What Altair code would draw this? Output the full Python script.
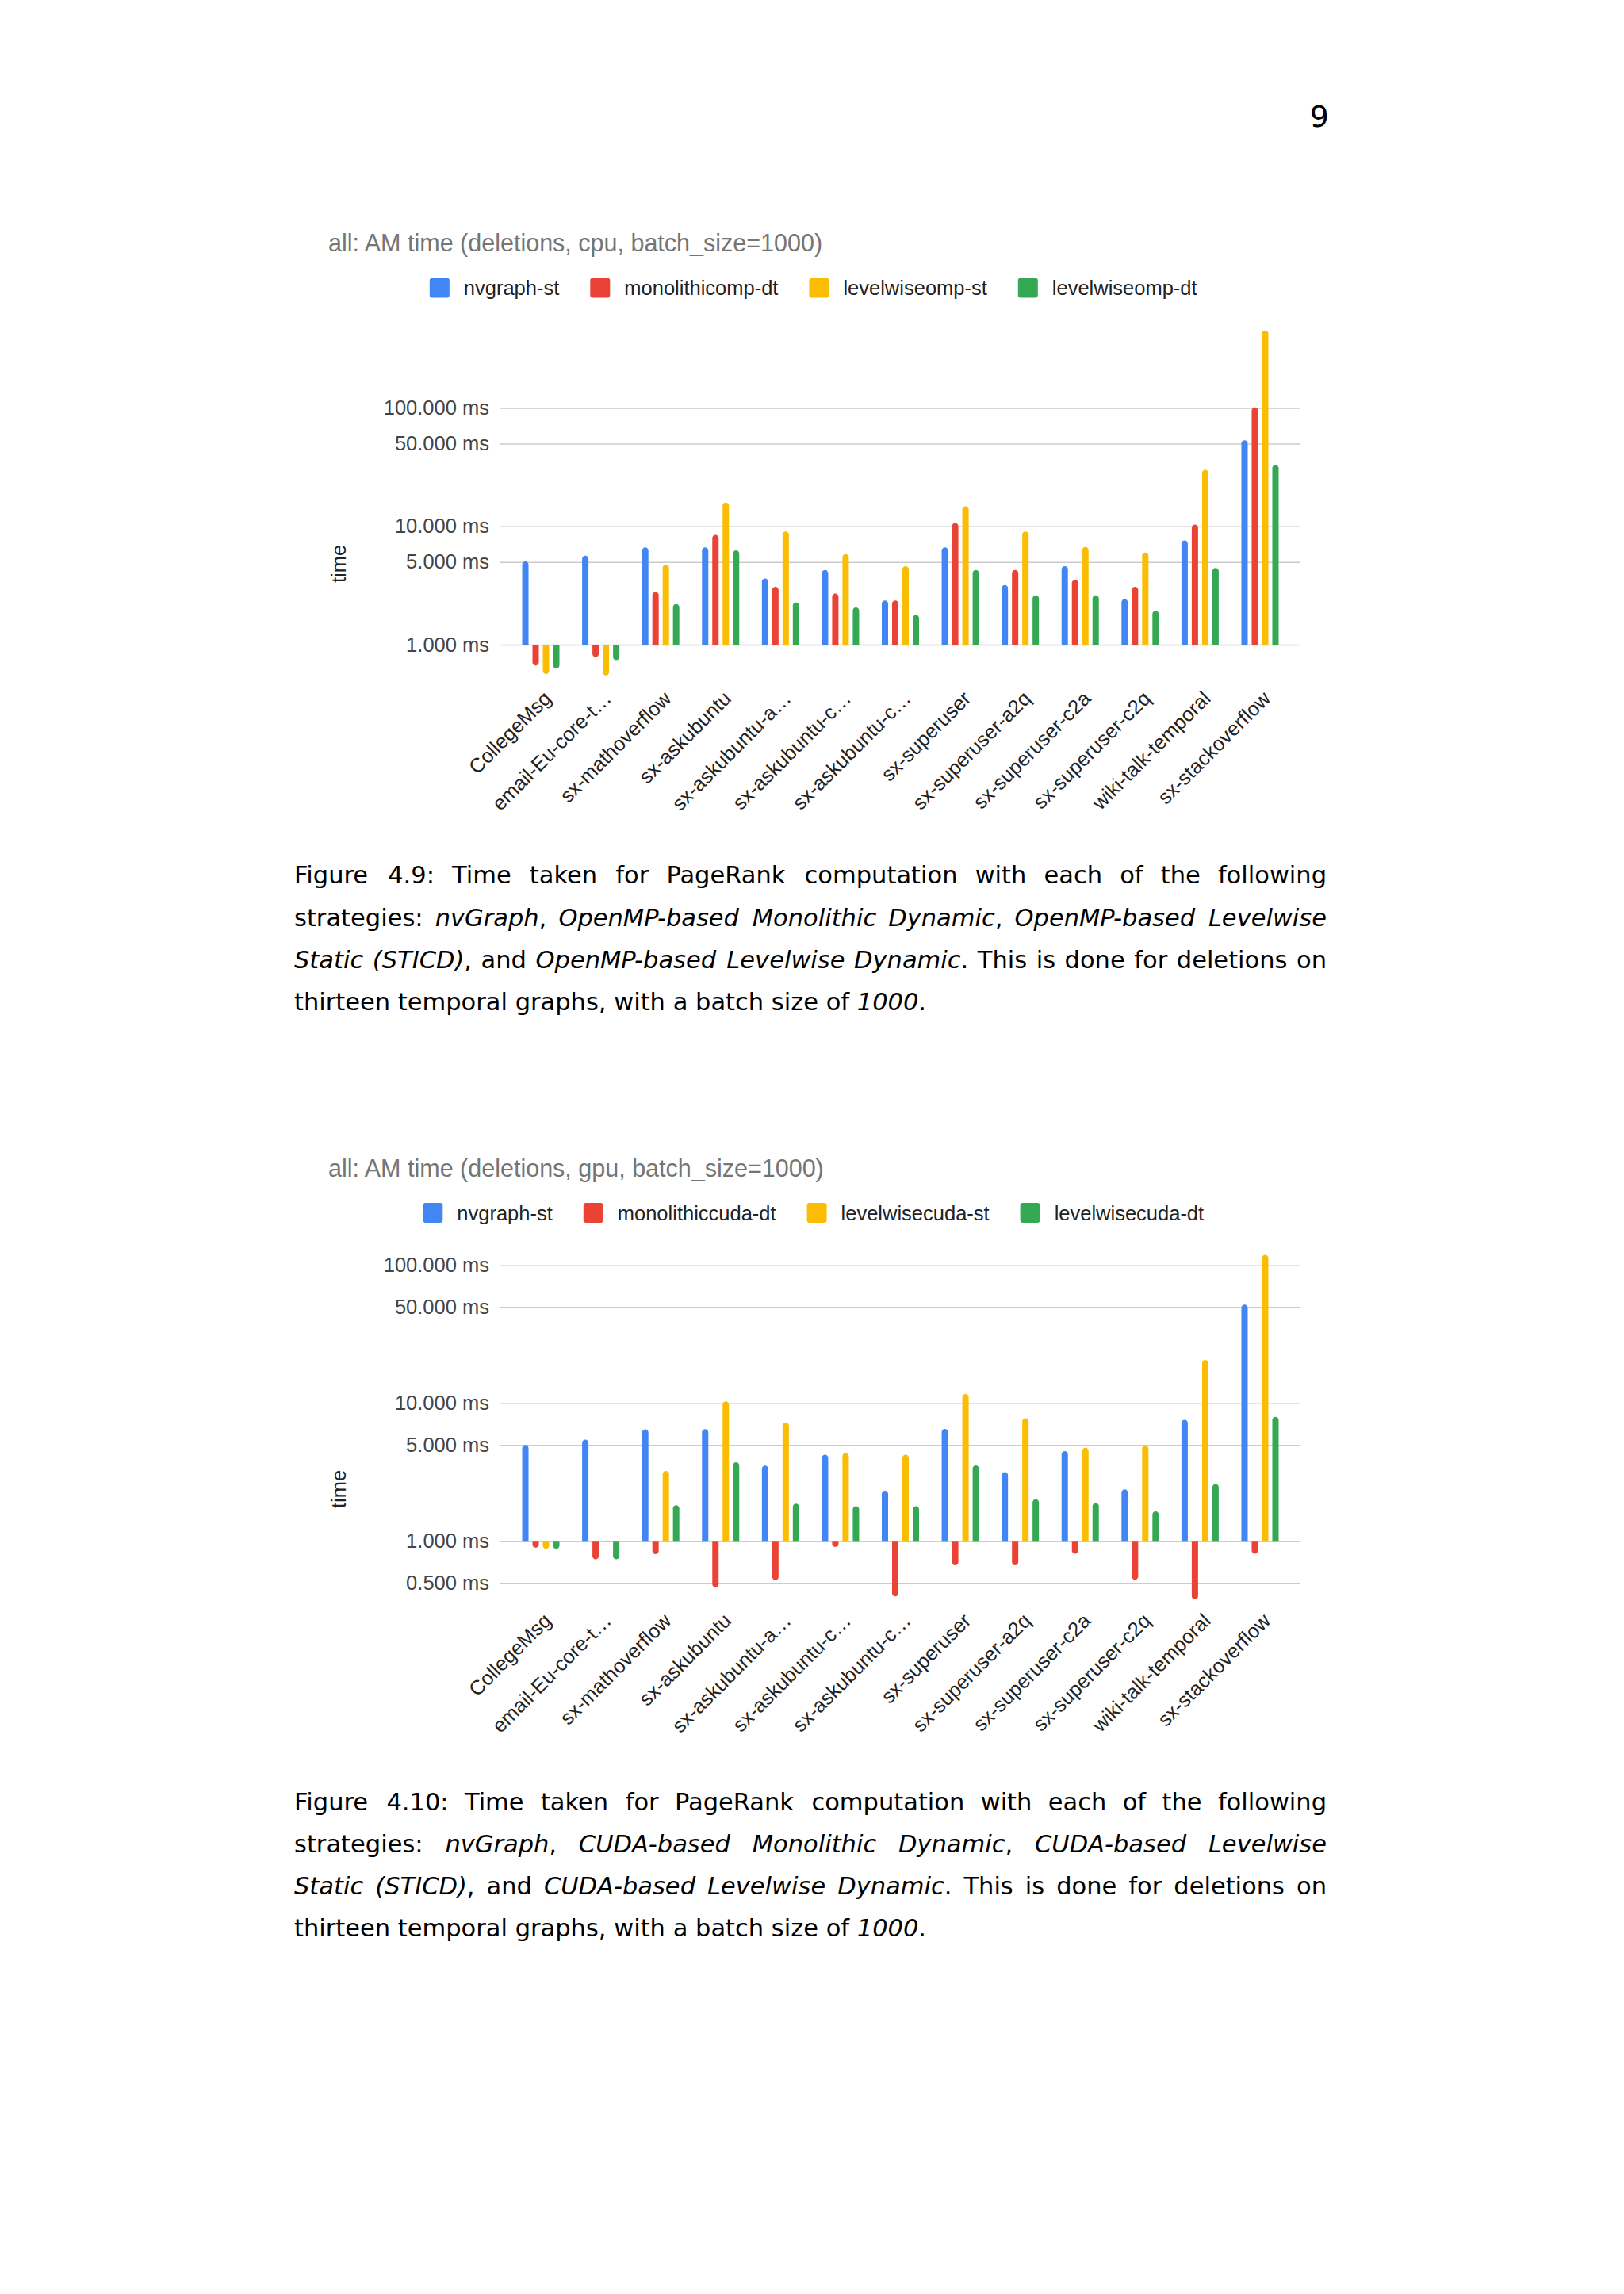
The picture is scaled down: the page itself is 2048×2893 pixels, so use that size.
import math
import altair as alt
import pandas as pd

# ---------------- data (values in ms) ----------------
categories = ["CollegeMsg", "email-Eu-core-temporal", "sx-mathoverflow", "sx-askubuntu",
              "sx-askubuntu-a2q", "sx-askubuntu-c2a", "sx-askubuntu-c2q", "sx-superuser",
              "sx-superuser-a2q", "sx-superuser-c2a", "sx-superuser-c2q", "wiki-talk-temporal",
              "sx-stackoverflow"]
category_labels = ["CollegeMsg", "email-Eu-core-t…", "sx-mathoverflow", "sx-askubuntu",
                   "sx-askubuntu-a…", "sx-askubuntu-c…", "sx-askubuntu-c…", "sx-superuser",
                   "sx-superuser-a2q", "sx-superuser-c2a", "sx-superuser-c2q", "wiki-talk-temporal",
                   "sx-stackoverflow"]

cpu_series = ["nvgraph-st", "monolithicomp-dt", "levelwiseomp-st", "levelwiseomp-dt"]
gpu_series = ["nvgraph-st", "monolithiccuda-dt", "levelwisecuda-st", "levelwisecuda-dt"]

cpu_nvgraph_st = [5.1, 5.7, 6.7, 6.7, 3.66, 4.32, 2.38, 6.7, 3.22, 4.64, 2.45, 7.67, 53.8]
cpu_monolithic_dt = [0.673, 0.789, 2.81, 8.53, 3.11, 2.73, 2.38, 10.74, 4.32, 3.56, 3.11, 10.42, 101.8]
cpu_levelwise_st = [0.57, 0.554, 4.78, 16.0, 9.1, 5.88, 4.64, 14.9, 9.1, 6.74, 6.05, 30.2, 456.0]
cpu_levelwise_dt = [0.635, 0.745, 2.22, 6.31, 2.29, 2.08, 1.8, 4.32, 2.63, 2.63, 1.95, 4.48, 33.3]

gpu_nvgraph_st = [5.03, 5.5, 6.53, 6.55, 3.57, 4.27, 2.34, 6.57, 3.2, 4.54, 2.4, 7.65, 52.3]
gpu_monolithic_dt = [0.907, 0.745, 0.812, 0.468, 0.527, 0.918, 0.402, 0.674, 0.674, 0.817, 0.531, 0.382, 0.817]
gpu_levelwise_st = [0.887, 0.99, 3.26, 10.4, 7.31, 4.4, 4.27, 11.75, 7.85, 4.8, 4.98, 20.8, 120.0]
gpu_levelwise_dt = [0.887, 0.745, 1.84, 3.77, 1.89, 1.81, 1.81, 3.58, 2.03, 1.91, 1.66, 2.62, 8.04]

cpu_ticks = [1, 5, 10, 50, 100]
gpu_ticks = [0.5, 1, 5, 10, 50, 100]

cpu_title = "all: AM time (deletions, cpu, batch_size=1000)"
gpu_title = "all: AM time (deletions, gpu, batch_size=1000)"
axis_title = "time"
page_number = "9"

caption1 = [
    [("Figure 4.9: Time taken for PageRank computation with each of the following", 0)],
    [("strategies: ", 0), ("nvGraph", 1), (", ", 0), ("OpenMP-based Monolithic Dynamic", 1),
     (", ", 0), ("OpenMP-based Levelwise", 1)],
    [("Static (STICD)", 1), (", and ", 0), ("OpenMP-based Levelwise Dynamic", 1),
     (". This is done for deletions on", 0)],
    [("thirteen temporal graphs, with a batch size of ", 0), ("1000", 1), (".", 0)],
]
caption2 = [
    [("Figure 4.10: Time taken for PageRank computation with each of the following", 0)],
    [("strategies: ", 0), ("nvGraph", 1), (", ", 0), ("CUDA-based Monolithic Dynamic", 1),
     (", ", 0), ("CUDA-based Levelwise", 1)],
    [("Static (STICD)", 1), (", and ", 0), ("CUDA-based Levelwise Dynamic", 1),
     (". This is done for deletions on", 0)],
    [("thirteen temporal graphs, with a batch size of ", 0), ("1000", 1), (".", 0)],
]

# ---------------- layout / style ----------------
M = 8                      # page margin
PLOT_X0, PLOT_X1 = 631, 1640
CAP_X0, CAP_X1 = 371, 1673
COLORS = ["#4285F4", "#EA4335", "#FBBC04", "#34A853"]
CHART_FONT = "Liberation Sans"
CAP_FONT = "DejaVu Sans"
CAP_SIZE = 30.5
LAB_SIZE = 25.5
TITLE_SIZE = 30.5
BAR_W = 8

G1 = dict(base=813.5, decade=149.25, title_y=317, legend_y=363, xlabel_y=886, time_y=711)
G2 = dict(base=1944.3, decade=174.0, title_y=1484, legend_y=1529.5, xlabel_y=2049, time_y=1878)

# Arial / Liberation Sans advance widths (per 1000 em)
AR = {'a': 556, 'b': 556, 'c': 500, 'd': 556, 'e': 556, 'f': 278, 'g': 556, 'h': 556, 'i': 222,
      'j': 222, 'k': 500, 'l': 222, 'm': 833, 'n': 556, 'o': 556, 'p': 556, 'q': 556, 'r': 333,
      's': 500, 't': 278, 'u': 556, 'v': 500, 'w': 722, 'x': 500, 'y': 500, 'z': 500, '-': 333}
# DejaVu Sans advance widths (per 2048 em)
DV = {' ': 651, '(': 799, ')': 799, ',': 651, '-': 739, '.': 651, ':': 690,
      'A': 1401, 'B': 1405, 'C': 1430, 'D': 1577, 'E': 1294, 'F': 1178, 'G': 1587, 'H': 1540,
      'I': 604, 'J': 604, 'K': 1343, 'L': 1141, 'M': 1767, 'N': 1532, 'O': 1612, 'P': 1235,
      'Q': 1612, 'R': 1423, 'S': 1300, 'T': 1251, 'U': 1499, 'V': 1401, 'W': 2025, 'X': 1403,
      'Y': 1251, 'Z': 1403,
      'a': 1255, 'b': 1300, 'c': 1126, 'd': 1300, 'e': 1260, 'f': 721, 'g': 1300, 'h': 1298,
      'i': 569, 'j': 569, 'k': 1186, 'l': 569, 'm': 1995, 'n': 1298, 'o': 1253, 'p': 1300,
      'q': 1300, 'r': 842, 's': 1067, 't': 803, 'u': 1298, 'v': 1212, 'w': 1675, 'x': 1212,
      'y': 1212, 'z': 1075}
for _d in "0123456789":
    DV[_d] = 1303


def w_ar(s, size):
    return sum(AR.get(c, 556) for c in s) / 1000.0 * size


def w_dv(s, size):
    return sum(DV.get(c, 1250) for c in s) / 2048.0 * size


def make_chart(series, cols, ticks, title, g):
    rows = []
    for si, (name, vals) in enumerate(zip(series, cols)):
        for c, v in zip(categories, vals):
            rows.append({"cat": c, "series": name, "sidx": si, "v": v})
    df = pd.DataFrame(rows)

    def py(v):
        return g["base"] - math.log10(v) * g["decade"] - M

    ys = alt.Scale(type="log", domain=[0.1, 1000], range=[py(0.1), py(1000)], nice=False, zero=False)
    xs = alt.Scale(domain=categories, range=[PLOT_X0 - M, PLOT_X1 - M], paddingOuter=0.175, paddingInner=0)
    xos = alt.Scale(domain=[0, 1, 2, 3], paddingInner=0, paddingOuter=0.907)
    cs = alt.Scale(domain=[0, 1, 2, 3], range=COLORS)

    tdf = pd.DataFrame({"v": ticks, "lab": [f"{t:.3f} ms" for t in ticks]})
    grid = alt.Chart(tdf).mark_rule(color="#cccccc", strokeWidth=1.5).encode(
        y=alt.Y("v:Q", scale=ys, axis=None),
        x=alt.value(PLOT_X0 - M), x2=alt.value(PLOT_X1 - M))
    tick_labels = alt.Chart(tdf).mark_text(
        align="right", baseline="middle", font=CHART_FONT, fontSize=LAB_SIZE, color="#444444"
    ).encode(y=alt.Y("v:Q", scale=ys, axis=None), x=alt.value(617 - M), text="lab:N")

    base = alt.Chart(df).encode(
        x=alt.X("cat:N", scale=xs, axis=None),
        xOffset=alt.XOffset("sidx:O", scale=xos),
        y=alt.Y("v:Q", scale=ys, axis=None),
        y2=alt.datum(1),
        color=alt.Color("sidx:O", scale=cs, legend=None),
    )
    pos = base.transform_filter("datum.v >= 1").mark_bar(
        size=BAR_W, cornerRadiusTopLeft=4, cornerRadiusTopRight=4)
    neg = base.transform_filter("datum.v < 1").mark_bar(
        size=BAR_W, cornerRadiusBottomLeft=4, cornerRadiusBottomRight=4)

    ldf = pd.DataFrame({"cat": categories, "label": category_labels})
    xlabels = alt.Chart(ldf).mark_text(
        align="right", baseline="middle", angle=315, dx=13,
        font=CHART_FONT, fontSize=LAB_SIZE, color="#222222"
    ).encode(x=alt.X("cat:N", scale=xs, axis=None), y=alt.value(g["xlabel_y"] - M), text="label:N")

    core = alt.layer(grid, tick_labels, pos, neg, xlabels)

    # chart title and axis title
    tchart = alt.Chart(pd.DataFrame({"t": [title]})).mark_text(
        align="left", baseline="alphabetic", font=CHART_FONT, fontSize=TITLE_SIZE, color="#757575"
    ).encode(x=alt.value(414 - M), y=alt.value(g["title_y"] - M), text="t:N")
    ttime = alt.Chart(pd.DataFrame({"t": [axis_title]})).mark_text(
        align="center", baseline="middle", angle=270, font=CHART_FONT, fontSize=LAB_SIZE, color="#222222"
    ).encode(x=alt.value(428 - M), y=alt.value(g["time_y"] - M), text="t:N")

    # legend entries laid out from the label widths, centred
    sw, gap1, gap2 = 25, 18, 39
    widths = [sw + gap1 + w_ar(s, LAB_SIZE) for s in series]
    total = sum(widths) + gap2 * (len(series) - 1)
    x = 1025.7 - total / 2
    lrows = []
    for si, (s, w) in enumerate(zip(series, widths)):
        lrows.append({"name": s, "sidx": si, "x0": x - M, "x1": x + sw - M, "tx": x + sw + gap1 - M})
        x += w + gap2
    legdf = pd.DataFrame(lrows)
    ly = g["legend_y"]
    swatch = alt.Chart(legdf).mark_rect(cornerRadius=3).encode(
        x=alt.X("x0:Q", scale=None, axis=None), x2="x1:Q",
        y=alt.value(ly - sw / 2 - M), y2=alt.value(ly + sw / 2 - M),
        color=alt.Color("sidx:O", scale=cs, legend=None))
    legtext = alt.Chart(legdf).mark_text(
        align="left", baseline="alphabetic", font=CHART_FONT, fontSize=LAB_SIZE, color="#222222"
    ).encode(x=alt.X("tx:Q", scale=None, axis=None), y=alt.value(ly + 9 - M), text="name:N")

    return core, [tchart, ttime, swatch, legtext]


def words_of(runs):
    words, cur = [], []
    for text, it in runs:
        buf = ""
        for ch in text:
            if ch == " ":
                if buf:
                    cur.append((buf, it))
                    buf = ""
                if cur:
                    words.append(cur)
                    cur = []
            else:
                buf += ch
        if buf:
            cur.append((buf, it))
    if cur:
        words.append(cur)
    return words


def layout_caption(lines, y0, dy):
    recs = []
    sp = w_dv(" ", CAP_SIZE)
    for li, runs in enumerate(lines):
        words = words_of(runs)
        y = y0 + li * dy - M
        ww = [sum(w_dv(t, CAP_SIZE) for t, _ in w) for w in words]
        last = li == len(lines) - 1
        gap = sp if last else (CAP_X1 - CAP_X0 - sum(ww)) / (len(words) - 1)
        x = CAP_X0
        for wi, w in enumerate(words):
            if not last and wi == len(words) - 1:
                xr = CAP_X1
                for t, it in reversed(w):
                    recs.append({"x": xr - M, "y": y, "t": t, "it": it, "al": "right"})
                    xr -= w_dv(t, CAP_SIZE)
            else:
                xx = x
                for t, it in w:
                    recs.append({"x": xx - M, "y": y, "t": t, "it": it, "al": "left"})
                    xx += w_dv(t, CAP_SIZE)
            x += ww[wi] + gap
    return recs


cap_df = pd.DataFrame(layout_caption(caption1, 1114.3, 53.3) + layout_caption(caption2, 2282.5, 53.3))
cap_layers = []
for it in (0, 1):
    for al in ("left", "right"):
        cap_layers.append(
            alt.Chart(cap_df).transform_filter(f"datum.it == {it} && datum.al == '{al}'").mark_text(
                align=al, baseline="alphabetic", font=CAP_FONT, fontSize=CAP_SIZE,
                fontStyle="italic" if it else "normal", color="#000000"
            ).encode(x=alt.X("x:Q", scale=None, axis=None), y=alt.Y("y:Q", scale=None, axis=None), text="t:N")
        )

page_layer = alt.Chart(pd.DataFrame({"t": [page_number]})).mark_text(
    align="right", baseline="alphabetic", font=CAP_FONT, fontSize=38, color="#000000"
).encode(x=alt.value(1676 - M), y=alt.value(160 - M), text="t:N")

core1, deco1 = make_chart(cpu_series, [cpu_nvgraph_st, cpu_monolithic_dt, cpu_levelwise_st, cpu_levelwise_dt],
                          cpu_ticks, cpu_title, G1)
core2, deco2 = make_chart(gpu_series, [gpu_nvgraph_st, gpu_monolithic_dt, gpu_levelwise_st, gpu_levelwise_dt],
                          gpu_ticks, gpu_title, G2)

chart = alt.layer(core1, core2, *deco1, *deco2, *cap_layers, page_layer).resolve_scale(
    x="independent", y="independent", xOffset="independent"
).properties(
    width=2032, height=2877, padding=0, background="white",
    autosize=alt.AutoSizeParams(type="none"),
).configure_view(stroke=None, strokeWidth=0)

chart.save("out.html", embed_options={"renderer": "svg", "actions": False})
